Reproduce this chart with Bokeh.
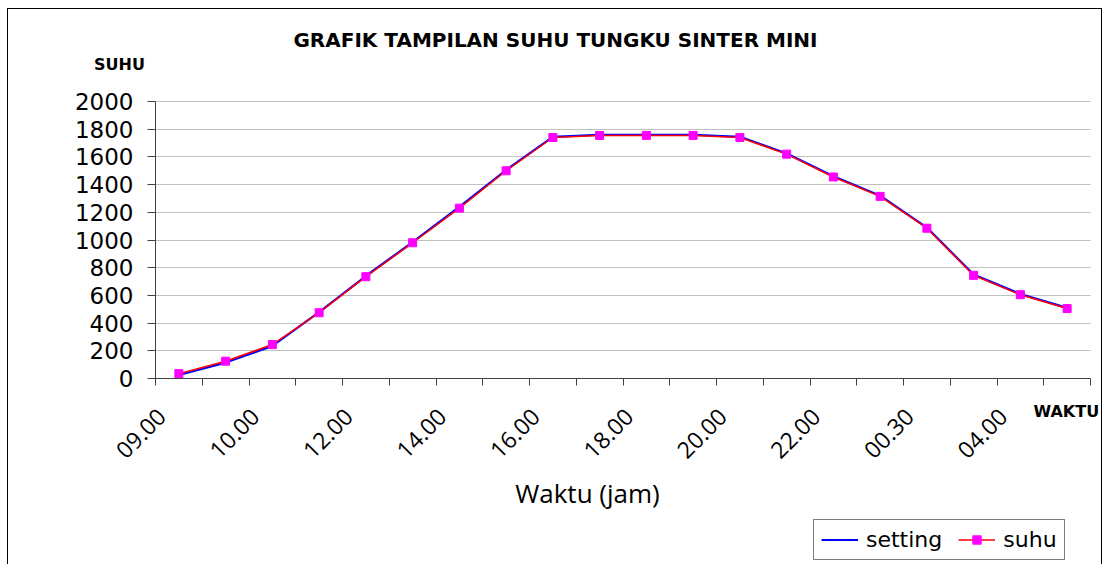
import math
from bokeh.plotting import figure
from bokeh.models import FixedTicker, Legend, LegendItem, Range1d, Label
from bokeh.embed import file_html
from bokeh.resources import INLINE

# ---- data ----
tick_labels = ["09.00", "10.00", "12.00", "14.00", "16.00",
               "18.00", "20.00", "22.00", "00.30", "04.00"]
setting = [25, 115, 235, 480, 740, 985, 1240, 1505, 1745, 1760,
           1760, 1760, 1745, 1625, 1460, 1320, 1090, 750, 610, 510]
suhu = [35, 125, 245, 475, 735, 980, 1230, 1500, 1740, 1755,
        1755, 1755, 1740, 1620, 1455, 1315, 1085, 745, 605, 505]
y_ticks = list(range(0, 2001, 200))

n = len(suhu)
xs = list(range(n))
label_step = 2

# ---- layout (canvas pixels; canvas placed at page 7,8) ----
W, H = 1095, 556
FL, FR, FT, FB = 148, 1083, 93, 370      # visible plot area inside the canvas
x0, x1 = -0.5, n - 0.5
y0, y1 = 0, 2000
ux = (x1 - x0) / (FR - FL)
uy = (y1 - y0) / (FB - FT)

def X(cx):
    return x0 + (cx - FL) * ux

def Y(cy):
    return y0 + (FB - cy) * uy

p = figure(width=W, height=H,
           x_range=Range1d(X(0), X(W)), y_range=Range1d(Y(H), Y(0)),
           output_backend="svg", toolbar_location=None,
           min_border_left=0, min_border_right=0,
           min_border_top=0, min_border_bottom=0)
p.outline_line_color = None
p.background_fill_color = None
p.border_fill_color = None
p.styles = {"margin-left": "7px", "margin-top": "8px", "background": "white",
            "box-shadow": "inset 1px 1px 0 0 #000000, inset -1px 0 0 0 #000000"}

axis_col = "#404040"
grid_col = "#c0c0c0"

# grid
p.xgrid.visible = False
try:
    p.ygrid.cross_bounds = (x0, x1)
    p.ygrid.bounds = (y0, y1)
    p.ygrid.ticker = FixedTicker(ticks=y_ticks)
    p.ygrid.grid_line_color = grid_col
except Exception:
    p.ygrid.visible = False
    p.segment(x0=[x0] * len(y_ticks), x1=[x1] * len(y_ticks), y0=y_ticks, y1=y_ticks,
              line_color=grid_col, line_width=1)

# y axis
ya = p.yaxis[0]
ya.fixed_location = x0
ya.bounds = (y0, y1)
ya.ticker = FixedTicker(ticks=y_ticks, minor_ticks=[])
ya.axis_line_color = axis_col
ya.major_tick_line_color = axis_col
ya.major_tick_out = 8
ya.major_tick_in = 0
ya.minor_tick_out = 0
ya.minor_tick_in = 0
ya.major_label_text_font = "DejaVu Sans"
ya.major_label_text_font_size = "23px"
ya.major_label_text_color = "black"
ya.major_label_standoff = 14

# x axis
shift = 0.37
label_pos = [i * label_step - shift for i in range(len(tick_labels))]
xa = p.xaxis[0]
xa.fixed_location = y0
xa.bounds = (x0, x1)
xa.ticker = FixedTicker(ticks=label_pos, minor_ticks=[i - 0.5 for i in range(n + 1)])
xa.major_label_overrides = {pos: lab for pos, lab in zip(label_pos, tick_labels)}
xa.axis_line_color = axis_col
xa.major_tick_out = 0
xa.major_tick_in = 0
xa.minor_tick_out = 7
xa.minor_tick_in = 0
xa.minor_tick_line_color = axis_col
xa.major_label_orientation = math.pi / 4
xa.major_label_text_font = "Open Sans"
xa.major_label_text_font_size = "23px"
xa.major_label_text_color = "black"
xa.major_label_standoff = 27

# series
r_set = p.line(xs, setting, line_color="#0000FF", line_width=2.2)
r_suhu = p.line(xs, suhu, line_color="#FF0000", line_width=1.5)
r_mark = p.scatter(xs, suhu, marker="square", size=8, fill_color="#FF00FF",
                   line_color="#FF00FF")

# texts
def add_text(text, cx, cy, size, font="DejaVu Sans", style="normal", align="center"):
    p.add_layout(Label(x=X(cx), y=Y(cy), text=text, text_font=font,
                       text_font_style=style, text_font_size=size,
                       text_align=align, text_baseline="middle", text_color="black"))

add_text("GRAFIK TAMPILAN SUHU TUNGKU SINTER MINI", 548, 31, "20px", style="bold")
add_text("SUHU", 112, 56, "16px", style="bold")
add_text("WAKTU", 1026, 403, "16px", style="bold", align="left")
add_text("Waktu (jam)", 580, 484, "26px", font="Open Sans")

legend = Legend(items=[LegendItem(label="setting", renderers=[r_set]),
                       LegendItem(label="suhu", renderers=[r_suhu, r_mark])],
                orientation="horizontal", location=(806, H - 552),
                border_line_color="black", border_line_width=1,
                background_fill_color="white", background_fill_alpha=1,
                label_text_font="DejaVu Sans", label_text_font_size="22px",
                label_text_color="black", glyph_width=37, glyph_height=21,
                label_height=21, padding=7, spacing=16, label_standoff=8, margin=0)
p.add_layout(legend, "center")

open("out.html", "w").write(file_html(p, INLINE))
